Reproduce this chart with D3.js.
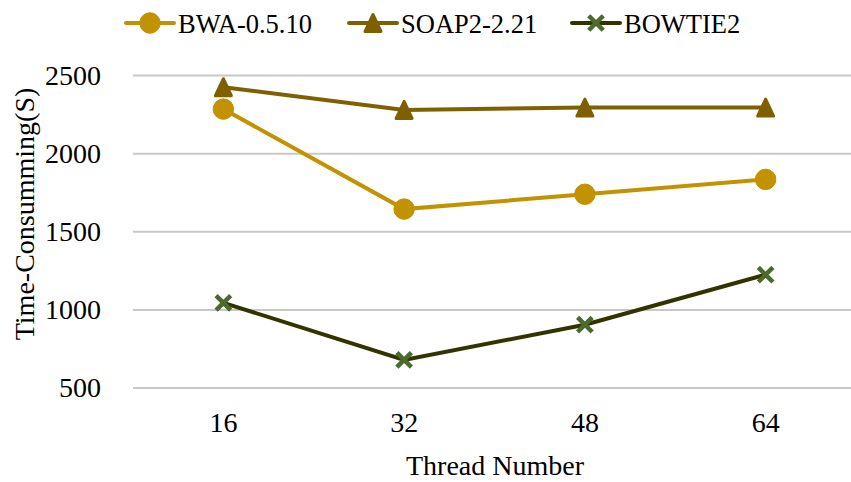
<!DOCTYPE html>
<html>
<head>
<meta charset="utf-8">
<script src="https://cdn.jsdelivr.net/npm/d3@7"></script>
<style>
  body { margin: 0; background: #fff; }
  text { font-family: "Liberation Serif", "Times New Roman", serif; fill: #000; }
</style>
</head>
<body>
<svg id="chart"></svg>
<script>
var width = 851;
var height = 482;

var threads = ["16", "32", "48", "64"];
var bwa = [2285, 1645, 1740, 1835];
var soap2 = [2425, 2280, 2295, 2295];
var bowtie2 = [1045, 680, 905, 1225];
var yTicks = [500, 1000, 1500, 2000, 2500];

var series = [
  {name: "BWA-0.5.10", values: bwa, line: "#c29200", fill: "#c29200", symbol: "circle"},
  {name: "SOAP2-2.21", values: soap2, line: "#7f6000", fill: "#7f6000", symbol: "triangle"},
  {name: "BOWTIE2", values: bowtie2, line: "#333300", fill: "#4b6a2e", symbol: "cross"}
];

var margin = {top: 75.5, right: 0, bottom: 94, left: 133};

var svg = d3.select("#chart")
    .attr("width", width)
    .attr("height", height);

var x = d3.scaleBand()
    .domain(threads)
    .range([margin.left, margin.left + 723]);

var y = d3.scaleLinear()
    .domain([500, 2500])
    .range([height - margin.bottom, margin.top]);

// gridlines
svg.append("g")
    .selectAll("line")
    .data(yTicks)
    .enter().append("line")
    .attr("x1", margin.left)
    .attr("x2", width)
    .attr("y1", function(d) { return y(d); })
    .attr("y2", function(d) { return y(d); })
    .attr("stroke", "#c8c8c8")
    .attr("stroke-width", 2);

// y tick labels
svg.append("g")
    .selectAll("text")
    .data(yTicks)
    .enter().append("text")
    .attr("x", 101)
    .attr("y", function(d) { return y(d); })
    .attr("dy", "0.33em")
    .attr("text-anchor", "end")
    .style("font-size", "28px")
    .text(function(d) { return d; });

// x tick labels
svg.append("g")
    .selectAll("text")
    .data(threads)
    .enter().append("text")
    .attr("x", function(d) { return x(d) + x.bandwidth() / 2; })
    .attr("y", 432)
    .attr("text-anchor", "middle")
    .style("font-size", "28px")
    .text(function(d) { return d; });

// axis titles
svg.append("text")
    .attr("x", 495)
    .attr("y", 475)
    .attr("text-anchor", "middle")
    .style("font-size", "28px")
    .text("Thread Number");

svg.append("text")
    .attr("transform", "translate(34,214)rotate(-90)")
    .attr("text-anchor", "middle")
    .style("font-size", "28px")
    .text("Time-Consumming(S)");

// the triangle is a bit taller than wide, so draw it by hand
var triangle = {
  draw: function(context, size) {
    context.moveTo(0, -8.5);
    context.lineTo(8, 8.5);
    context.lineTo(-8, 8.5);
    context.closePath();
  }
};

var symbolFor = {
  circle: d3.symbol().type(d3.symbolCircle).size(330),
  triangle: d3.symbol().type(triangle),
  cross: d3.symbol().type(d3.symbolX).size(140)
};
var strokeFor = {circle: 1, triangle: 3, cross: 4.5};

var line = d3.line()
    .x(function(d, i) { return x(threads[i]) + x.bandwidth() / 2; })
    .y(function(d) { return y(d); });

series.forEach(function(s) {
  var g = svg.append("g");
  g.append("path")
      .attr("d", line(s.values))
      .attr("fill", "none")
      .attr("stroke", s.line)
      .attr("stroke-width", 4);

  g.selectAll("path.mark")
      .data(s.values)
      .enter().append("path")
      .attr("class", "mark")
      .attr("transform", function(d, i) {
        return "translate(" + (x(threads[i]) + x.bandwidth() / 2) + "," + y(d) + ")";
      })
      .attr("d", symbolFor[s.symbol])
      .attr("fill", s.fill)
      .attr("stroke", s.fill)
      .attr("stroke-width", strokeFor[s.symbol])
      .attr("stroke-linejoin", "round");
});

// legend
var legendX = [126, 349, 572];
var legendLen = 48;
var legend = svg.append("g")
    .selectAll("g")
    .data(series)
    .enter().append("g")
    .attr("transform", function(d, i) { return "translate(" + legendX[i] + ",23)"; });

legend.append("line")
    .attr("x1", 0)
    .attr("x2", legendLen)
    .attr("stroke", function(d) { return d.line; })
    .attr("stroke-width", 4)
    .attr("stroke-linecap", "round");

legend.append("path")
    .attr("transform", "translate(" + (legendLen / 2) + ",0)")
    .attr("d", function(d) { return symbolFor[d.symbol](); })
    .attr("fill", function(d) { return d.fill; })
    .attr("stroke", function(d) { return d.fill; })
    .attr("stroke-width", function(d) { return strokeFor[d.symbol]; })
    .attr("stroke-linejoin", "round");

legend.append("text")
    .attr("x", legendLen + 4)
    .attr("y", 9.5)
    .style("font-size", "26.5px")
    .text(function(d) { return d.name; });
</script>
</body>
</html>
